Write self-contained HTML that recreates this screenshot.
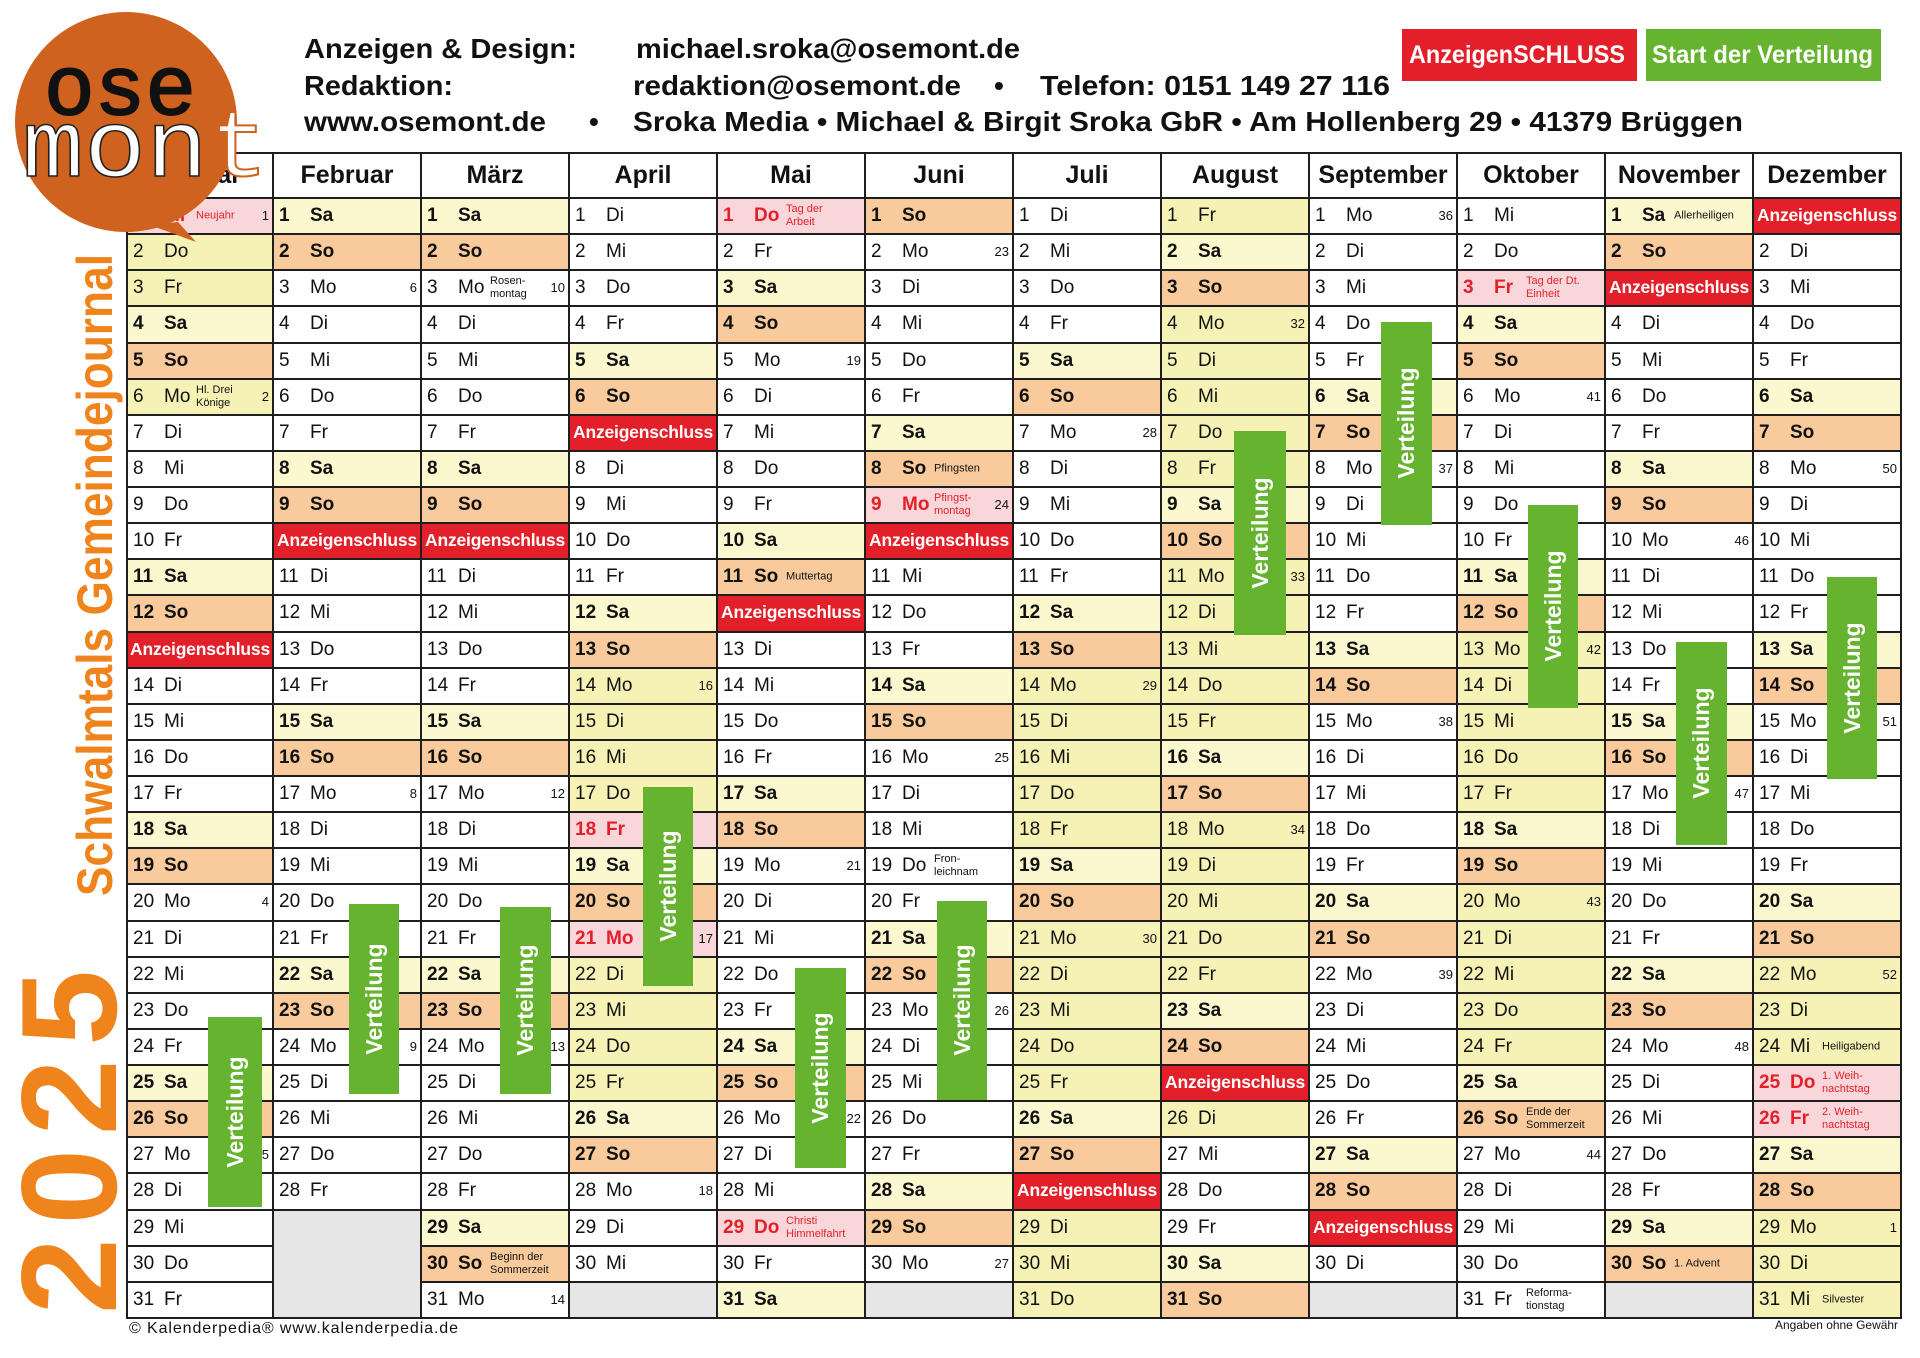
<!DOCTYPE html>
<html><head><meta charset="utf-8"><style>
*{margin:0;padding:0}
body{width:1920px;height:1358px;background:#fff;position:relative;overflow:hidden;font-family:"Liberation Sans",sans-serif}
#g{position:absolute;left:126px;top:152px;width:1776px;display:flex;border-left:2px solid #1e1e1e;border-top:2px solid #1e1e1e;box-sizing:border-box}
.col{width:148px;flex:none}
#g .col:first-child{width:146px}
.m{height:45px;border-right:2px solid #1e1e1e;border-bottom:2px solid #1e1e1e;box-sizing:border-box;font:bold 25px/43px "Liberation Sans",sans-serif;text-align:center;color:#111}
.c{height:36.13px;border-right:2px solid #1e1e1e;border-bottom:2px solid #1e1e1e;box-sizing:border-box;position:relative;font:19px/33px "Liberation Sans",sans-serif;padding-left:5px;white-space:nowrap;overflow:hidden;background:#fff;color:#111}
.c i{font-style:normal;display:inline-block;width:31px}
.s{background:#fbf7cf;font-weight:bold}
.u{background:#f9cb9c;font-weight:bold}
.f{background:#f6f1b4}
.h{background:#f9d6d9;font-weight:bold;color:#e3202a}
.r{background:#e3202a;color:#fff;font-weight:bold;font-size:17.5px;padding:0;text-align:center;letter-spacing:-0.2px}
.x{background:#e6e6e6}
.c em{position:absolute;left:68px;top:50%;transform:translateY(-50%);font:11px/13px "Liberation Sans",sans-serif;font-style:normal;font-weight:normal;color:#111}
.h em{color:#e3202a}
.c s{position:absolute;right:3px;top:0;font:13px/33px "Liberation Sans",sans-serif;text-decoration:none;font-weight:normal;color:#111}
svg{position:absolute;left:0;top:0}
</style></head><body>
<div id="g">
<div class="col"><div class="m">Januar</div>
<div class="c h"><i>1</i>Mi<em>Neujahr</em><s>1</s></div>
<div class="c f"><i>2</i>Do</div>
<div class="c f"><i>3</i>Fr</div>
<div class="c s"><i>4</i>Sa</div>
<div class="c u"><i>5</i>So</div>
<div class="c f"><i>6</i>Mo<em>Hl. Drei<br>Könige</em><s>2</s></div>
<div class="c"><i>7</i>Di</div>
<div class="c"><i>8</i>Mi</div>
<div class="c"><i>9</i>Do</div>
<div class="c"><i>10</i>Fr</div>
<div class="c s"><i>11</i>Sa</div>
<div class="c u"><i>12</i>So</div>
<div class="c r">Anzeigenschluss</div>
<div class="c"><i>14</i>Di</div>
<div class="c"><i>15</i>Mi</div>
<div class="c"><i>16</i>Do</div>
<div class="c"><i>17</i>Fr</div>
<div class="c s"><i>18</i>Sa</div>
<div class="c u"><i>19</i>So</div>
<div class="c"><i>20</i>Mo<s>4</s></div>
<div class="c"><i>21</i>Di</div>
<div class="c"><i>22</i>Mi</div>
<div class="c"><i>23</i>Do</div>
<div class="c"><i>24</i>Fr</div>
<div class="c s"><i>25</i>Sa</div>
<div class="c u"><i>26</i>So</div>
<div class="c"><i>27</i>Mo<s>5</s></div>
<div class="c"><i>28</i>Di</div>
<div class="c"><i>29</i>Mi</div>
<div class="c"><i>30</i>Do</div>
<div class="c"><i>31</i>Fr</div>
</div>
<div class="col"><div class="m">Februar</div>
<div class="c s"><i>1</i>Sa</div>
<div class="c u"><i>2</i>So</div>
<div class="c"><i>3</i>Mo<s>6</s></div>
<div class="c"><i>4</i>Di</div>
<div class="c"><i>5</i>Mi</div>
<div class="c"><i>6</i>Do</div>
<div class="c"><i>7</i>Fr</div>
<div class="c s"><i>8</i>Sa</div>
<div class="c u"><i>9</i>So</div>
<div class="c r">Anzeigenschluss</div>
<div class="c"><i>11</i>Di</div>
<div class="c"><i>12</i>Mi</div>
<div class="c"><i>13</i>Do</div>
<div class="c"><i>14</i>Fr</div>
<div class="c s"><i>15</i>Sa</div>
<div class="c u"><i>16</i>So</div>
<div class="c"><i>17</i>Mo<s>8</s></div>
<div class="c"><i>18</i>Di</div>
<div class="c"><i>19</i>Mi</div>
<div class="c"><i>20</i>Do</div>
<div class="c"><i>21</i>Fr</div>
<div class="c s"><i>22</i>Sa</div>
<div class="c u"><i>23</i>So</div>
<div class="c"><i>24</i>Mo<s>9</s></div>
<div class="c"><i>25</i>Di</div>
<div class="c"><i>26</i>Mi</div>
<div class="c"><i>27</i>Do</div>
<div class="c"><i>28</i>Fr</div>
<div class="c x" style="height:108.4px"></div>
</div>
<div class="col"><div class="m">März</div>
<div class="c s"><i>1</i>Sa</div>
<div class="c u"><i>2</i>So</div>
<div class="c"><i>3</i>Mo<em>Rosen-<br>montag</em><s>10</s></div>
<div class="c"><i>4</i>Di</div>
<div class="c"><i>5</i>Mi</div>
<div class="c"><i>6</i>Do</div>
<div class="c"><i>7</i>Fr</div>
<div class="c s"><i>8</i>Sa</div>
<div class="c u"><i>9</i>So</div>
<div class="c r">Anzeigenschluss</div>
<div class="c"><i>11</i>Di</div>
<div class="c"><i>12</i>Mi</div>
<div class="c"><i>13</i>Do</div>
<div class="c"><i>14</i>Fr</div>
<div class="c s"><i>15</i>Sa</div>
<div class="c u"><i>16</i>So</div>
<div class="c"><i>17</i>Mo<s>12</s></div>
<div class="c"><i>18</i>Di</div>
<div class="c"><i>19</i>Mi</div>
<div class="c"><i>20</i>Do</div>
<div class="c"><i>21</i>Fr</div>
<div class="c s"><i>22</i>Sa</div>
<div class="c u"><i>23</i>So</div>
<div class="c"><i>24</i>Mo<s>13</s></div>
<div class="c"><i>25</i>Di</div>
<div class="c"><i>26</i>Mi</div>
<div class="c"><i>27</i>Do</div>
<div class="c"><i>28</i>Fr</div>
<div class="c s"><i>29</i>Sa</div>
<div class="c u"><i>30</i>So<em>Beginn der<br>Sommerzeit</em></div>
<div class="c"><i>31</i>Mo<s>14</s></div>
</div>
<div class="col"><div class="m">April</div>
<div class="c"><i>1</i>Di</div>
<div class="c"><i>2</i>Mi</div>
<div class="c"><i>3</i>Do</div>
<div class="c"><i>4</i>Fr</div>
<div class="c s"><i>5</i>Sa</div>
<div class="c u"><i>6</i>So</div>
<div class="c r">Anzeigenschluss</div>
<div class="c"><i>8</i>Di</div>
<div class="c"><i>9</i>Mi</div>
<div class="c"><i>10</i>Do</div>
<div class="c"><i>11</i>Fr</div>
<div class="c s"><i>12</i>Sa</div>
<div class="c u"><i>13</i>So</div>
<div class="c f"><i>14</i>Mo<s>16</s></div>
<div class="c f"><i>15</i>Di</div>
<div class="c f"><i>16</i>Mi</div>
<div class="c f"><i>17</i>Do</div>
<div class="c h"><i>18</i>Fr</div>
<div class="c s"><i>19</i>Sa</div>
<div class="c u"><i>20</i>So</div>
<div class="c h"><i>21</i>Mo<s>17</s></div>
<div class="c f"><i>22</i>Di</div>
<div class="c f"><i>23</i>Mi</div>
<div class="c f"><i>24</i>Do</div>
<div class="c f"><i>25</i>Fr</div>
<div class="c s"><i>26</i>Sa</div>
<div class="c u"><i>27</i>So</div>
<div class="c"><i>28</i>Mo<s>18</s></div>
<div class="c"><i>29</i>Di</div>
<div class="c"><i>30</i>Mi</div>
<div class="c x"></div>
</div>
<div class="col"><div class="m">Mai</div>
<div class="c h"><i>1</i>Do<em>Tag der<br>Arbeit</em></div>
<div class="c"><i>2</i>Fr</div>
<div class="c s"><i>3</i>Sa</div>
<div class="c u"><i>4</i>So</div>
<div class="c"><i>5</i>Mo<s>19</s></div>
<div class="c"><i>6</i>Di</div>
<div class="c"><i>7</i>Mi</div>
<div class="c"><i>8</i>Do</div>
<div class="c"><i>9</i>Fr</div>
<div class="c s"><i>10</i>Sa</div>
<div class="c u"><i>11</i>So<em>Muttertag</em></div>
<div class="c r">Anzeigenschluss</div>
<div class="c"><i>13</i>Di</div>
<div class="c"><i>14</i>Mi</div>
<div class="c"><i>15</i>Do</div>
<div class="c"><i>16</i>Fr</div>
<div class="c s"><i>17</i>Sa</div>
<div class="c u"><i>18</i>So</div>
<div class="c"><i>19</i>Mo<s>21</s></div>
<div class="c"><i>20</i>Di</div>
<div class="c"><i>21</i>Mi</div>
<div class="c"><i>22</i>Do</div>
<div class="c"><i>23</i>Fr</div>
<div class="c s"><i>24</i>Sa</div>
<div class="c u"><i>25</i>So</div>
<div class="c"><i>26</i>Mo<s>22</s></div>
<div class="c"><i>27</i>Di</div>
<div class="c"><i>28</i>Mi</div>
<div class="c h"><i>29</i>Do<em>Christi<br>Himmelfahrt</em></div>
<div class="c"><i>30</i>Fr</div>
<div class="c s"><i>31</i>Sa</div>
</div>
<div class="col"><div class="m">Juni</div>
<div class="c u"><i>1</i>So</div>
<div class="c"><i>2</i>Mo<s>23</s></div>
<div class="c"><i>3</i>Di</div>
<div class="c"><i>4</i>Mi</div>
<div class="c"><i>5</i>Do</div>
<div class="c"><i>6</i>Fr</div>
<div class="c s"><i>7</i>Sa</div>
<div class="c u"><i>8</i>So<em>Pfingsten</em></div>
<div class="c h"><i>9</i>Mo<em>Pfingst-<br>montag</em><s>24</s></div>
<div class="c r">Anzeigenschluss</div>
<div class="c"><i>11</i>Mi</div>
<div class="c"><i>12</i>Do</div>
<div class="c"><i>13</i>Fr</div>
<div class="c s"><i>14</i>Sa</div>
<div class="c u"><i>15</i>So</div>
<div class="c"><i>16</i>Mo<s>25</s></div>
<div class="c"><i>17</i>Di</div>
<div class="c"><i>18</i>Mi</div>
<div class="c"><i>19</i>Do<em>Fron-<br>leichnam</em></div>
<div class="c"><i>20</i>Fr</div>
<div class="c s"><i>21</i>Sa</div>
<div class="c u"><i>22</i>So</div>
<div class="c"><i>23</i>Mo<s>26</s></div>
<div class="c"><i>24</i>Di</div>
<div class="c"><i>25</i>Mi</div>
<div class="c"><i>26</i>Do</div>
<div class="c"><i>27</i>Fr</div>
<div class="c s"><i>28</i>Sa</div>
<div class="c u"><i>29</i>So</div>
<div class="c"><i>30</i>Mo<s>27</s></div>
<div class="c x"></div>
</div>
<div class="col"><div class="m">Juli</div>
<div class="c"><i>1</i>Di</div>
<div class="c"><i>2</i>Mi</div>
<div class="c"><i>3</i>Do</div>
<div class="c"><i>4</i>Fr</div>
<div class="c s"><i>5</i>Sa</div>
<div class="c u"><i>6</i>So</div>
<div class="c"><i>7</i>Mo<s>28</s></div>
<div class="c"><i>8</i>Di</div>
<div class="c"><i>9</i>Mi</div>
<div class="c"><i>10</i>Do</div>
<div class="c"><i>11</i>Fr</div>
<div class="c s"><i>12</i>Sa</div>
<div class="c u"><i>13</i>So</div>
<div class="c f"><i>14</i>Mo<s>29</s></div>
<div class="c f"><i>15</i>Di</div>
<div class="c f"><i>16</i>Mi</div>
<div class="c f"><i>17</i>Do</div>
<div class="c f"><i>18</i>Fr</div>
<div class="c s"><i>19</i>Sa</div>
<div class="c u"><i>20</i>So</div>
<div class="c f"><i>21</i>Mo<s>30</s></div>
<div class="c f"><i>22</i>Di</div>
<div class="c f"><i>23</i>Mi</div>
<div class="c f"><i>24</i>Do</div>
<div class="c f"><i>25</i>Fr</div>
<div class="c s"><i>26</i>Sa</div>
<div class="c u"><i>27</i>So</div>
<div class="c r">Anzeigenschluss</div>
<div class="c f"><i>29</i>Di</div>
<div class="c f"><i>30</i>Mi</div>
<div class="c f"><i>31</i>Do</div>
</div>
<div class="col"><div class="m">August</div>
<div class="c f"><i>1</i>Fr</div>
<div class="c s"><i>2</i>Sa</div>
<div class="c u"><i>3</i>So</div>
<div class="c f"><i>4</i>Mo<s>32</s></div>
<div class="c f"><i>5</i>Di</div>
<div class="c f"><i>6</i>Mi</div>
<div class="c f"><i>7</i>Do</div>
<div class="c f"><i>8</i>Fr</div>
<div class="c s"><i>9</i>Sa</div>
<div class="c u"><i>10</i>So</div>
<div class="c f"><i>11</i>Mo<s>33</s></div>
<div class="c f"><i>12</i>Di</div>
<div class="c f"><i>13</i>Mi</div>
<div class="c f"><i>14</i>Do</div>
<div class="c f"><i>15</i>Fr</div>
<div class="c s"><i>16</i>Sa</div>
<div class="c u"><i>17</i>So</div>
<div class="c f"><i>18</i>Mo<s>34</s></div>
<div class="c f"><i>19</i>Di</div>
<div class="c f"><i>20</i>Mi</div>
<div class="c f"><i>21</i>Do</div>
<div class="c f"><i>22</i>Fr</div>
<div class="c s"><i>23</i>Sa</div>
<div class="c u"><i>24</i>So</div>
<div class="c r">Anzeigenschluss</div>
<div class="c f"><i>26</i>Di</div>
<div class="c"><i>27</i>Mi</div>
<div class="c"><i>28</i>Do</div>
<div class="c"><i>29</i>Fr</div>
<div class="c s"><i>30</i>Sa</div>
<div class="c u"><i>31</i>So</div>
</div>
<div class="col"><div class="m">September</div>
<div class="c"><i>1</i>Mo<s>36</s></div>
<div class="c"><i>2</i>Di</div>
<div class="c"><i>3</i>Mi</div>
<div class="c"><i>4</i>Do</div>
<div class="c"><i>5</i>Fr</div>
<div class="c s"><i>6</i>Sa</div>
<div class="c u"><i>7</i>So</div>
<div class="c"><i>8</i>Mo<s>37</s></div>
<div class="c"><i>9</i>Di</div>
<div class="c"><i>10</i>Mi</div>
<div class="c"><i>11</i>Do</div>
<div class="c"><i>12</i>Fr</div>
<div class="c s"><i>13</i>Sa</div>
<div class="c u"><i>14</i>So</div>
<div class="c"><i>15</i>Mo<s>38</s></div>
<div class="c"><i>16</i>Di</div>
<div class="c"><i>17</i>Mi</div>
<div class="c"><i>18</i>Do</div>
<div class="c"><i>19</i>Fr</div>
<div class="c s"><i>20</i>Sa</div>
<div class="c u"><i>21</i>So</div>
<div class="c"><i>22</i>Mo<s>39</s></div>
<div class="c"><i>23</i>Di</div>
<div class="c"><i>24</i>Mi</div>
<div class="c"><i>25</i>Do</div>
<div class="c"><i>26</i>Fr</div>
<div class="c s"><i>27</i>Sa</div>
<div class="c u"><i>28</i>So</div>
<div class="c r">Anzeigenschluss</div>
<div class="c"><i>30</i>Di</div>
<div class="c x"></div>
</div>
<div class="col"><div class="m">Oktober</div>
<div class="c"><i>1</i>Mi</div>
<div class="c"><i>2</i>Do</div>
<div class="c h"><i>3</i>Fr<em>Tag der Dt.<br>Einheit</em></div>
<div class="c s"><i>4</i>Sa</div>
<div class="c u"><i>5</i>So</div>
<div class="c"><i>6</i>Mo<s>41</s></div>
<div class="c"><i>7</i>Di</div>
<div class="c"><i>8</i>Mi</div>
<div class="c"><i>9</i>Do</div>
<div class="c"><i>10</i>Fr</div>
<div class="c s"><i>11</i>Sa</div>
<div class="c u"><i>12</i>So</div>
<div class="c f"><i>13</i>Mo<s>42</s></div>
<div class="c f"><i>14</i>Di</div>
<div class="c f"><i>15</i>Mi</div>
<div class="c f"><i>16</i>Do</div>
<div class="c f"><i>17</i>Fr</div>
<div class="c s"><i>18</i>Sa</div>
<div class="c u"><i>19</i>So</div>
<div class="c f"><i>20</i>Mo<s>43</s></div>
<div class="c f"><i>21</i>Di</div>
<div class="c f"><i>22</i>Mi</div>
<div class="c f"><i>23</i>Do</div>
<div class="c f"><i>24</i>Fr</div>
<div class="c s"><i>25</i>Sa</div>
<div class="c u"><i>26</i>So<em>Ende der<br>Sommerzeit</em></div>
<div class="c"><i>27</i>Mo<s>44</s></div>
<div class="c"><i>28</i>Di</div>
<div class="c"><i>29</i>Mi</div>
<div class="c"><i>30</i>Do</div>
<div class="c"><i>31</i>Fr<em>Reforma-<br>tionstag</em></div>
</div>
<div class="col"><div class="m">November</div>
<div class="c s"><i>1</i>Sa<em>Allerheiligen</em></div>
<div class="c u"><i>2</i>So</div>
<div class="c r">Anzeigenschluss</div>
<div class="c"><i>4</i>Di</div>
<div class="c"><i>5</i>Mi</div>
<div class="c"><i>6</i>Do</div>
<div class="c"><i>7</i>Fr</div>
<div class="c s"><i>8</i>Sa</div>
<div class="c u"><i>9</i>So</div>
<div class="c"><i>10</i>Mo<s>46</s></div>
<div class="c"><i>11</i>Di</div>
<div class="c"><i>12</i>Mi</div>
<div class="c"><i>13</i>Do</div>
<div class="c"><i>14</i>Fr</div>
<div class="c s"><i>15</i>Sa</div>
<div class="c u"><i>16</i>So</div>
<div class="c"><i>17</i>Mo<s>47</s></div>
<div class="c"><i>18</i>Di</div>
<div class="c"><i>19</i>Mi</div>
<div class="c"><i>20</i>Do</div>
<div class="c"><i>21</i>Fr</div>
<div class="c s"><i>22</i>Sa</div>
<div class="c u"><i>23</i>So</div>
<div class="c"><i>24</i>Mo<s>48</s></div>
<div class="c"><i>25</i>Di</div>
<div class="c"><i>26</i>Mi</div>
<div class="c"><i>27</i>Do</div>
<div class="c"><i>28</i>Fr</div>
<div class="c s"><i>29</i>Sa</div>
<div class="c u"><i>30</i>So<em>1. Advent</em></div>
<div class="c x"></div>
</div>
<div class="col"><div class="m">Dezember</div>
<div class="c r">Anzeigenschluss</div>
<div class="c"><i>2</i>Di</div>
<div class="c"><i>3</i>Mi</div>
<div class="c"><i>4</i>Do</div>
<div class="c"><i>5</i>Fr</div>
<div class="c s"><i>6</i>Sa</div>
<div class="c u"><i>7</i>So</div>
<div class="c"><i>8</i>Mo<s>50</s></div>
<div class="c"><i>9</i>Di</div>
<div class="c"><i>10</i>Mi</div>
<div class="c"><i>11</i>Do</div>
<div class="c"><i>12</i>Fr</div>
<div class="c s"><i>13</i>Sa</div>
<div class="c u"><i>14</i>So</div>
<div class="c"><i>15</i>Mo<s>51</s></div>
<div class="c"><i>16</i>Di</div>
<div class="c"><i>17</i>Mi</div>
<div class="c"><i>18</i>Do</div>
<div class="c"><i>19</i>Fr</div>
<div class="c s"><i>20</i>Sa</div>
<div class="c u"><i>21</i>So</div>
<div class="c f"><i>22</i>Mo<s>52</s></div>
<div class="c f"><i>23</i>Di</div>
<div class="c f"><i>24</i>Mi<em>Heiligabend</em></div>
<div class="c h"><i>25</i>Do<em>1. Weih-<br>nachtstag</em></div>
<div class="c h"><i>26</i>Fr<em>2. Weih-<br>nachtstag</em></div>
<div class="c s"><i>27</i>Sa</div>
<div class="c u"><i>28</i>So</div>
<div class="c f"><i>29</i>Mo<s>1</s></div>
<div class="c f"><i>30</i>Di</div>
<div class="c f"><i>31</i>Mi<em>Silvester</em></div>
</div>
</div>

<svg width="1920" height="1358" viewBox="0 0 1920 1358" xmlns="http://www.w3.org/2000/svg" font-family="Liberation Sans, sans-serif">
<g font-weight="bold" font-size="28" fill="#111">
<text x="304" y="58" textLength="273" lengthAdjust="spacingAndGlyphs">Anzeigen &amp; Design:</text>
<text x="636" y="58" textLength="384" lengthAdjust="spacingAndGlyphs">michael.sroka@osemont.de</text>
<text x="304" y="95" textLength="149" lengthAdjust="spacingAndGlyphs">Redaktion:</text>
<text x="633" y="95" textLength="328" lengthAdjust="spacingAndGlyphs">redaktion@osemont.de</text>
<text x="994" y="95">•</text>
<text x="1040" y="95" textLength="350" lengthAdjust="spacingAndGlyphs">Telefon: 0151 149 27 116</text>
<text x="304" y="131" textLength="242" lengthAdjust="spacingAndGlyphs">www.osemont.de</text>
<text x="589" y="131">•</text>
<text x="633" y="131" textLength="1110" lengthAdjust="spacingAndGlyphs">Sroka Media • Michael &amp; Birgit Sroka GbR • Am Hollenberg 29 • 41379 Brüggen</text>
</g>
<rect x="1402" y="29" width="235" height="52" fill="#e3202a"/>
<rect x="1646" y="29" width="235" height="52" fill="#65b32e"/>
<g font-weight="bold" font-size="25" fill="#fff">
<text x="1409" y="63" textLength="216" lengthAdjust="spacingAndGlyphs">AnzeigenSCHLUSS</text>
<text x="1652" y="63" textLength="221" lengthAdjust="spacingAndGlyphs">Start der Verteilung</text>
</g>
<text transform="translate(112,896) rotate(-90)" font-size="50" font-weight="bold" fill="#ef831c" textLength="642" lengthAdjust="spacingAndGlyphs">Schwalmtals Gemeindejournal</text>
<text transform="translate(116,1314) rotate(-90)" font-size="136" font-weight="bold" fill="#ef831c" textLength="344" lengthAdjust="spacing">2025</text>
<path d="M150,225 L196,242 L178,222 Z" fill="#cf621e"/>
<ellipse cx="126" cy="122" rx="111" ry="110" fill="#cf621e"/>
<text x="44" y="114" font-family="Liberation Mono, monospace" font-size="84" fill="#111" stroke="#111" stroke-width="2" textLength="152" lengthAdjust="spacingAndGlyphs">ose</text>
<text x="22" y="176" font-family="Liberation Mono, monospace" font-size="96" fill="#fff" stroke="#222" stroke-width="1.5" textLength="186" lengthAdjust="spacingAndGlyphs">mon</text>
<text x="210" y="176" font-family="Liberation Mono, monospace" font-size="96" fill="#fff" stroke="#cf621e" stroke-width="2" textLength="58" lengthAdjust="spacingAndGlyphs">t</text>
<g fill="#65b32e">
<rect x="208" y="1017" width="54" height="190"/>
<rect x="349" y="904" width="50" height="190"/>
<rect x="500" y="907" width="51" height="187"/>
<rect x="643" y="787" width="50" height="199"/>
<rect x="795" y="968" width="51" height="200"/>
<rect x="937" y="901" width="50" height="199"/>
<rect x="1234" y="431" width="52" height="204"/>
<rect x="1381" y="322" width="51" height="203"/>
<rect x="1528" y="505" width="50" height="203"/>
<rect x="1676" y="642" width="51" height="203"/>
<rect x="1827" y="577" width="50" height="202"/>
</g>
<g font-weight="bold" font-size="23" fill="#fff" text-anchor="middle">
<text transform="translate(243,1112) rotate(-90)">Verteilung</text>
<text transform="translate(382,999) rotate(-90)">Verteilung</text>
<text transform="translate(533,1000) rotate(-90)">Verteilung</text>
<text transform="translate(676,886) rotate(-90)">Verteilung</text>
<text transform="translate(828,1068) rotate(-90)">Verteilung</text>
<text transform="translate(970,1000) rotate(-90)">Verteilung</text>
<text transform="translate(1268,533) rotate(-90)">Verteilung</text>
<text transform="translate(1414,423) rotate(-90)">Verteilung</text>
<text transform="translate(1561,606) rotate(-90)">Verteilung</text>
<text transform="translate(1709,743) rotate(-90)">Verteilung</text>
<text transform="translate(1860,678) rotate(-90)">Verteilung</text>
</g>
<text x="129" y="1333" font-size="16" fill="#111" textLength="329" lengthAdjust="spacing">© Kalenderpedia®   www.kalenderpedia.de</text>
<text x="1775" y="1329" font-size="12" fill="#111" textLength="123" lengthAdjust="spacingAndGlyphs">Angaben ohne Gewähr</text>
</svg>
</body></html>
